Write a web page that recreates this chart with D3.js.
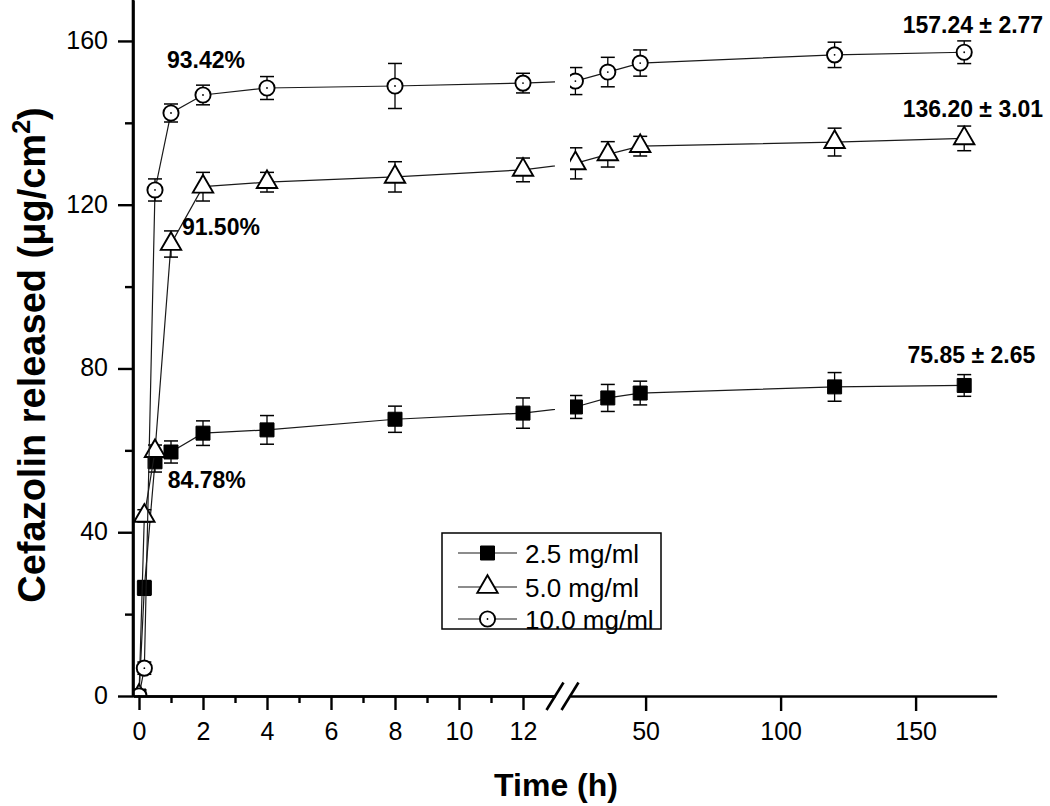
<!DOCTYPE html>
<html><head><meta charset="utf-8">
<script src="https://cdn.jsdelivr.net/npm/d3@7"></script>
<style>
body{margin:0;background:#fff}
svg{display:block}
text{font-family:Arial,"Liberation Sans",sans-serif;fill:#000}
</style>
</head><body>
<svg id="chart" width="1050" height="806"></svg>
<script>
// ---------------- data ----------------
const times = [0, 0.167, 0.5, 1, 2, 4, 8, 12, 24, 36, 48, 120, 168];
const seriesNames = ["2.5 mg/ml", "5.0 mg/ml", "10.0 mg/ml"];
const values25  = [0, 26.4, 57.2, 59.6, 64.2, 65.0, 67.6, 69.1, 70.6, 72.8, 74.0, 75.5, 75.85];
const errors25  = [0, 1.8, 2.5, 2.7, 3.0, 3.5, 3.2, 3.7, 2.8, 3.3, 2.9, 3.5, 2.65];
const values50  = [0, 44.0, 59.8, 110.4, 124.4, 125.5, 126.8, 128.5, 130.1, 132.3, 134.3, 135.3, 136.20];
const errors50  = [0, 1.5, 1.5, 3.2, 3.5, 2.4, 3.7, 2.9, 3.8, 3.1, 2.4, 3.4, 3.01];
const values100 = [0, 6.8, 123.6, 142.4, 146.8, 148.5, 149.0, 149.7, 150.2, 152.4, 154.6, 156.6, 157.24];
const errors100 = [0, 1.5, 2.7, 2.2, 2.4, 2.8, 5.5, 2.4, 3.3, 3.6, 3.2, 3.1, 2.77];
const yTicks = [0, 40, 80, 120, 160];
const yMinorTicks = [20, 60, 100, 140];
const xTicksLeft = [0, 2, 4, 6, 8, 10, 12];
const xMinorLeft = [1, 3, 5, 7, 9, 11];
const xTicksRight = [50, 100, 150];
const annotationTexts = ["93.42%", "91.50%", "84.78%", "157.24 ± 2.77", "136.20 ± 3.01", "75.85 ± 2.65"];
const annotationTimes = [0.875, 1.34, 0.9, 145.2, 145.2, 147.0];
const annotationValues = [153.4, 112.6, 50.8, 161.9, 141.4, 81.3];

// ---------------- scales ----------------
const svg = d3.select("#chart");
const y = d3.scaleLinear().domain([0, 170]).range([696, 0]);
const BREAK = 13;
const xL = d3.scaleLinear().domain([-0.1875, BREAK]).range([133, 555]);
const xR = d3.scaleLinear().domain([22, 180]).range([570, 996.6]);
const x = t => (t <= BREAK ? xL(t) : xR(t));

const defs = svg.append("defs");
defs.append("clipPath").attr("id", "clipL").append("rect")
  .attr("x", xL.range()[0]).attr("y", 0).attr("width", xL.range()[1] - xL.range()[0]).attr("height", y(0));
defs.append("clipPath").attr("id", "clipR").append("rect")
  .attr("x", xR.range()[0]).attr("y", 0).attr("width", 1050 - xR.range()[0]).attr("height", y(0));

const series = [
  {name: seriesNames[0], vals: values25, errs: errors25, shape: "square"},
  {name: seriesNames[1], vals: values50, errs: errors50, shape: "triangle"},
  {name: seriesNames[2], vals: values100, errs: errors100, shape: "circle"}
];

function drawMarker(g, shape, cx, cy) {
  if (shape === "square") {
    g.append("path").attr("d", d3.symbol(d3.symbolSquare, 196)())
      .attr("transform", `translate(${cx},${cy})`).attr("fill", "#000").attr("stroke", "#000").attr("stroke-width", 1);
  } else if (shape === "triangle") {
    g.append("path").attr("d", d3.symbol(d3.symbolTriangle, 180)())
      .attr("transform", `translate(${cx},${cy})`).attr("fill", "#fff").attr("stroke", "#000").attr("stroke-width", 1.9);
  } else {
    g.append("circle").attr("cx", cx).attr("cy", cy).attr("r", 7.6)
      .attr("fill", "#fff").attr("stroke", "#000").attr("stroke-width", 1.9);
    g.append("circle").attr("cx", cx).attr("cy", cy).attr("r", 0.9).attr("fill", "#000");
  }
}

const line = d3.line().x(d => x(d.t)).y(d => y(d.v));

["clipL", "clipR"].forEach(clip => {
  const g = svg.append("g").attr("clip-path", `url(#${clip})`);
  series.forEach(s => {
    const pts = times.map((t, i) => ({t, v: s.vals[i], e: s.errs[i]}));
    g.append("path").datum(pts).attr("d", line)
      .attr("fill", "none").attr("stroke", "#1a1a1a").attr("stroke-width", 1.2);
    pts.forEach(p => {
      if (p.e > 0) {
        const cx = x(p.t), y1 = y(p.v + p.e), y2 = y(p.v - p.e);
        g.append("line").attr("x1", cx).attr("x2", cx).attr("y1", y1).attr("y2", y2)
          .attr("stroke", "#000").attr("stroke-width", 1.3);
        [y1, y2].forEach(yy => g.append("line").attr("x1", cx - 7).attr("x2", cx + 7)
          .attr("y1", yy).attr("y2", yy).attr("stroke", "#000").attr("stroke-width", 1.5));
      }
    });
    pts.forEach(p => drawMarker(g, s.shape, x(p.t), y(p.v)));
  });
});

// ---------------- axes ----------------
function styleAxis(g) {
  g.attr("font-family", "Arial, 'Liberation Sans', sans-serif").attr("font-size", 25);
  g.select(".domain").attr("stroke", "#000").attr("stroke-width", 2.6);
  g.selectAll(".tick line").attr("stroke", "#000").attr("stroke-width", 2.4);
  g.selectAll(".tick text").attr("fill", "#000");
}

const yAxisMinor = svg.append("g").attr("transform", `translate(${xL.range()[0]},0)`)
  .call(d3.axisLeft(y).tickValues(yMinorTicks).tickSize(8).tickSizeOuter(0).tickFormat(""));
styleAxis(yAxisMinor);
const yAxis = svg.append("g").attr("transform", `translate(${xL.range()[0]},0)`)
  .call(d3.axisLeft(y).tickValues(yTicks).tickSize(15).tickPadding(10).tickSizeOuter(0));
styleAxis(yAxis);
yAxis.select(".domain").attr("d", `M0,${y(0) + 1}V0`);
yAxis.selectAll(".tick text").attr("dy", "0.3em");

const xMinorAxis = svg.append("g").attr("transform", `translate(0,${y(0)})`)
  .call(d3.axisBottom(xL).tickValues(xMinorLeft).tickSize(7).tickSizeOuter(0).tickFormat(""));
styleAxis(xMinorAxis);
const xAxisL = svg.append("g").attr("transform", `translate(0,${y(0)})`)
  .call(d3.axisBottom(xL).tickValues(xTicksLeft).tickSize(14).tickSizeOuter(0));
styleAxis(xAxisL);
xAxisL.selectAll(".tick text").attr("y", 44).attr("dy", null);
const xAxisR = svg.append("g").attr("transform", `translate(0,${y(0)})`)
  .call(d3.axisBottom(xR).tickValues(xTicksRight).tickSize(15).tickSizeOuter(0));
styleAxis(xAxisR);
xAxisR.selectAll(".tick text").attr("y", 44).attr("dy", null);

// break marks
[xL.range()[1], xR.range()[0]].forEach(cx => {
  svg.append("line").attr("x1", cx - 8.5).attr("y1", y(0) + 14).attr("x2", cx + 8.5).attr("y2", y(0) - 13.5)
    .attr("stroke", "#000").attr("stroke-width", 2.6);
});

// axis titles
svg.append("text").attr("x", 556).attr("y", 796).attr("text-anchor", "middle")
  .attr("font-size", 32).attr("font-weight", "bold").text("Time (h)");
const yt = svg.append("text").attr("transform", "translate(45,355) rotate(-90)")
  .attr("text-anchor", "middle").attr("font-size", 38).attr("font-weight", "bold");
yt.append("tspan").text("Cefazolin released (μg/cm");
yt.append("tspan").attr("font-size", 25).attr("dy", -15).text("2");
yt.append("tspan").attr("dy", 15).text(")");

// annotations
annotationTexts.forEach((txt, i) => {
  svg.append("text").attr("x", x(annotationTimes[i])).attr("y", y(annotationValues[i]))
    .attr("font-size", 23).attr("font-weight", "bold").text(txt);
});

// legend
const lg = svg.append("g");
lg.append("rect").attr("x", 442).attr("y", 533).attr("width", 219).attr("height", 96)
  .attr("fill", "#fff").attr("stroke", "#000").attr("stroke-width", 1.5);
const rowY = [553, 587, 619];
series.forEach((s, i) => {
  lg.append("line").attr("x1", 458).attr("x2", 517).attr("y1", rowY[i]).attr("y2", rowY[i])
    .attr("stroke", "#1a1a1a").attr("stroke-width", 1.2);
  drawMarker(lg, s.shape, 487.5, rowY[i]);
  lg.append("text").attr("x", 525).attr("y", rowY[i] + 10).attr("font-size", 26).text(s.name);
});
</script>
</body></html>
